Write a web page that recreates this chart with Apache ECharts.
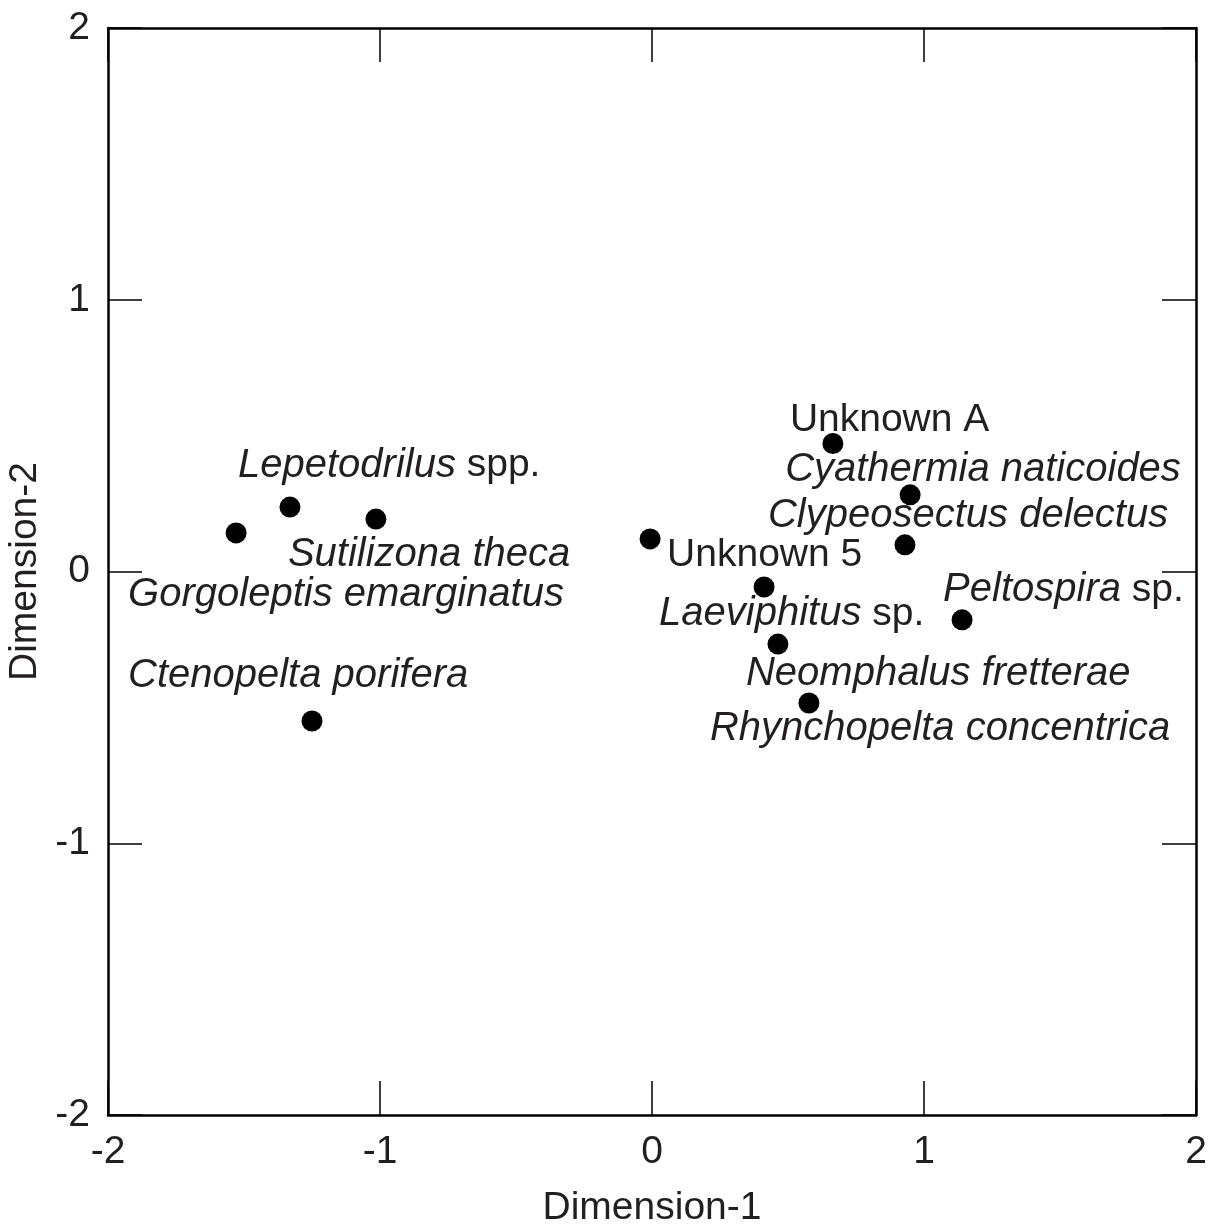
<!DOCTYPE html>
<html>
<head>
<meta charset="utf-8">
<script src="https://cdn.jsdelivr.net/npm/echarts@6/dist/echarts.min.js"></script>
<style>
html,body{margin:0;padding:0;background:#fff;}
#chart{width:1217px;height:1230px;}
</style>
</head>
<body>
<div id="chart"></div>
<script>
// Species names
const names = [
  'Gorgoleptis emarginatus',
  'Lepetodrilus spp.',
  'Sutilizona theca',
  'Ctenopelta porifera',
  'Unknown 5',
  'Unknown A',
  'Cyathermia naticoides',
  'Clypeosectus delectus',
  'Laeviphitus sp.',
  'Peltospira sp.',
  'Neomphalus fretterae',
  'Rhynchopelta concentrica'
];
// Dimension-1 values
const dim1 = [-1.529, -1.331, -1.015, -1.250, -0.007, 0.665, 0.949, 0.930, 0.412, 1.140, 0.463, 0.577];
// Dimension-2 values
const dim2 = [0.142, 0.237, 0.193, -0.550, 0.120, 0.471, 0.282, 0.098, -0.057, -0.178, -0.267, -0.484];
// Axis ticks
const xTicks = [-2, -1, 0, 1, 2];
const yTicks = [-2, -1, 0, 1, 2];

// label placement (pixel offsets from each point: left edge, vertical centre)
const labelOffsets = [
  [-108, 61.5], [-52, -41.5], [-88, 36], [-184, -45],
  [17, 16.5], [-43, -23.5], [-125, -24.5], [-137, -28.5],
  [-105, 27], [-19, -29.5], [-32, 30], [-99, 26]
];

const FONT = '"Liberation Sans", Arial, Helvetica, sans-serif';
const TXT = '#231f20';
const FS = 39;
const FSI = 40;

function richName(n) {
  if (/^Unknown/.test(n)) return '{n|' + n + '}';
  const m = n.match(/^(.*) (spp?\.)$/);
  if (m) return '{i|' + m[1] + '} {n|' + m[2] + '}';
  return '{i|' + n + '}';
}

const chart = echarts.init(document.getElementById('chart'), null, {renderer: 'canvas'});

const axisCommon = {
  type: 'value', min: -2, max: 2, interval: 1,
  axisLine: {show: true, onZero: false, lineStyle: {color: '#000', width: 2.5}},
  axisTick: {show: true, inside: true, length: 34, lineStyle: {color: '#000', width: 1.5}},
  splitLine: {show: false}
};

const option = {
  backgroundColor: '#ffffff',
  animation: false,
  textStyle: {fontFamily: FONT},
  grid: {left: 108, right: 21, top: 28, bottom: 115, containLabel: false, outerBoundsMode: 'none'},
  xAxis: [
    Object.assign({}, axisCommon, {
      position: 'bottom',
      name: 'Dimension-1', nameLocation: 'middle', nameGap: 74,
      nameTextStyle: {fontSize: FS, color: TXT, fontFamily: FONT},
      axisLabel: {show: true, margin: 18, fontSize: FS, color: TXT, fontFamily: FONT,
        formatter: v => xTicks.includes(v) ? String(v) : ''}
    }),
    Object.assign({}, axisCommon, {position: 'top', axisLabel: {show: false}})
  ],
  yAxis: [
    Object.assign({}, axisCommon, {
      position: 'left',
      name: 'Dimension-2', nameLocation: 'middle', nameGap: 54,
      nameTextStyle: {fontSize: FS, color: TXT, fontFamily: FONT},
      axisLabel: {show: true, margin: 18, fontSize: FS, color: TXT, fontFamily: FONT,
        padding: [0, 0, 8, 0],
        formatter: v => yTicks.includes(v) ? String(v) : ''}
    }),
    Object.assign({}, axisCommon, {position: 'right', axisLabel: {show: false}})
  ],
  series: [{
    type: 'scatter',
    xAxisIndex: 0, yAxisIndex: 0,
    symbol: 'circle',
    symbolSize: 21,
    itemStyle: {color: '#000', opacity: 1},
    data: names.map((n, i) => ({
      name: n,
      value: [dim1[i], dim2[i]],
      label: {offset: labelOffsets[i]}
    })),
    label: {
      show: true,
      position: 'inside',
      align: 'left',
      verticalAlign: 'middle',
      fontSize: FS,
      fontFamily: FONT,
      color: TXT,
      formatter: p => richName(p.name),
      rich: {
        i: {fontStyle: 'italic', fontSize: FSI, fontFamily: FONT, color: TXT},
        n: {fontStyle: 'normal', fontSize: FS, fontFamily: FONT, color: TXT}
      }
    },
    emphasis: {disabled: true}
  }]
};

chart.setOption(option);
</script>
</body>
</html>
